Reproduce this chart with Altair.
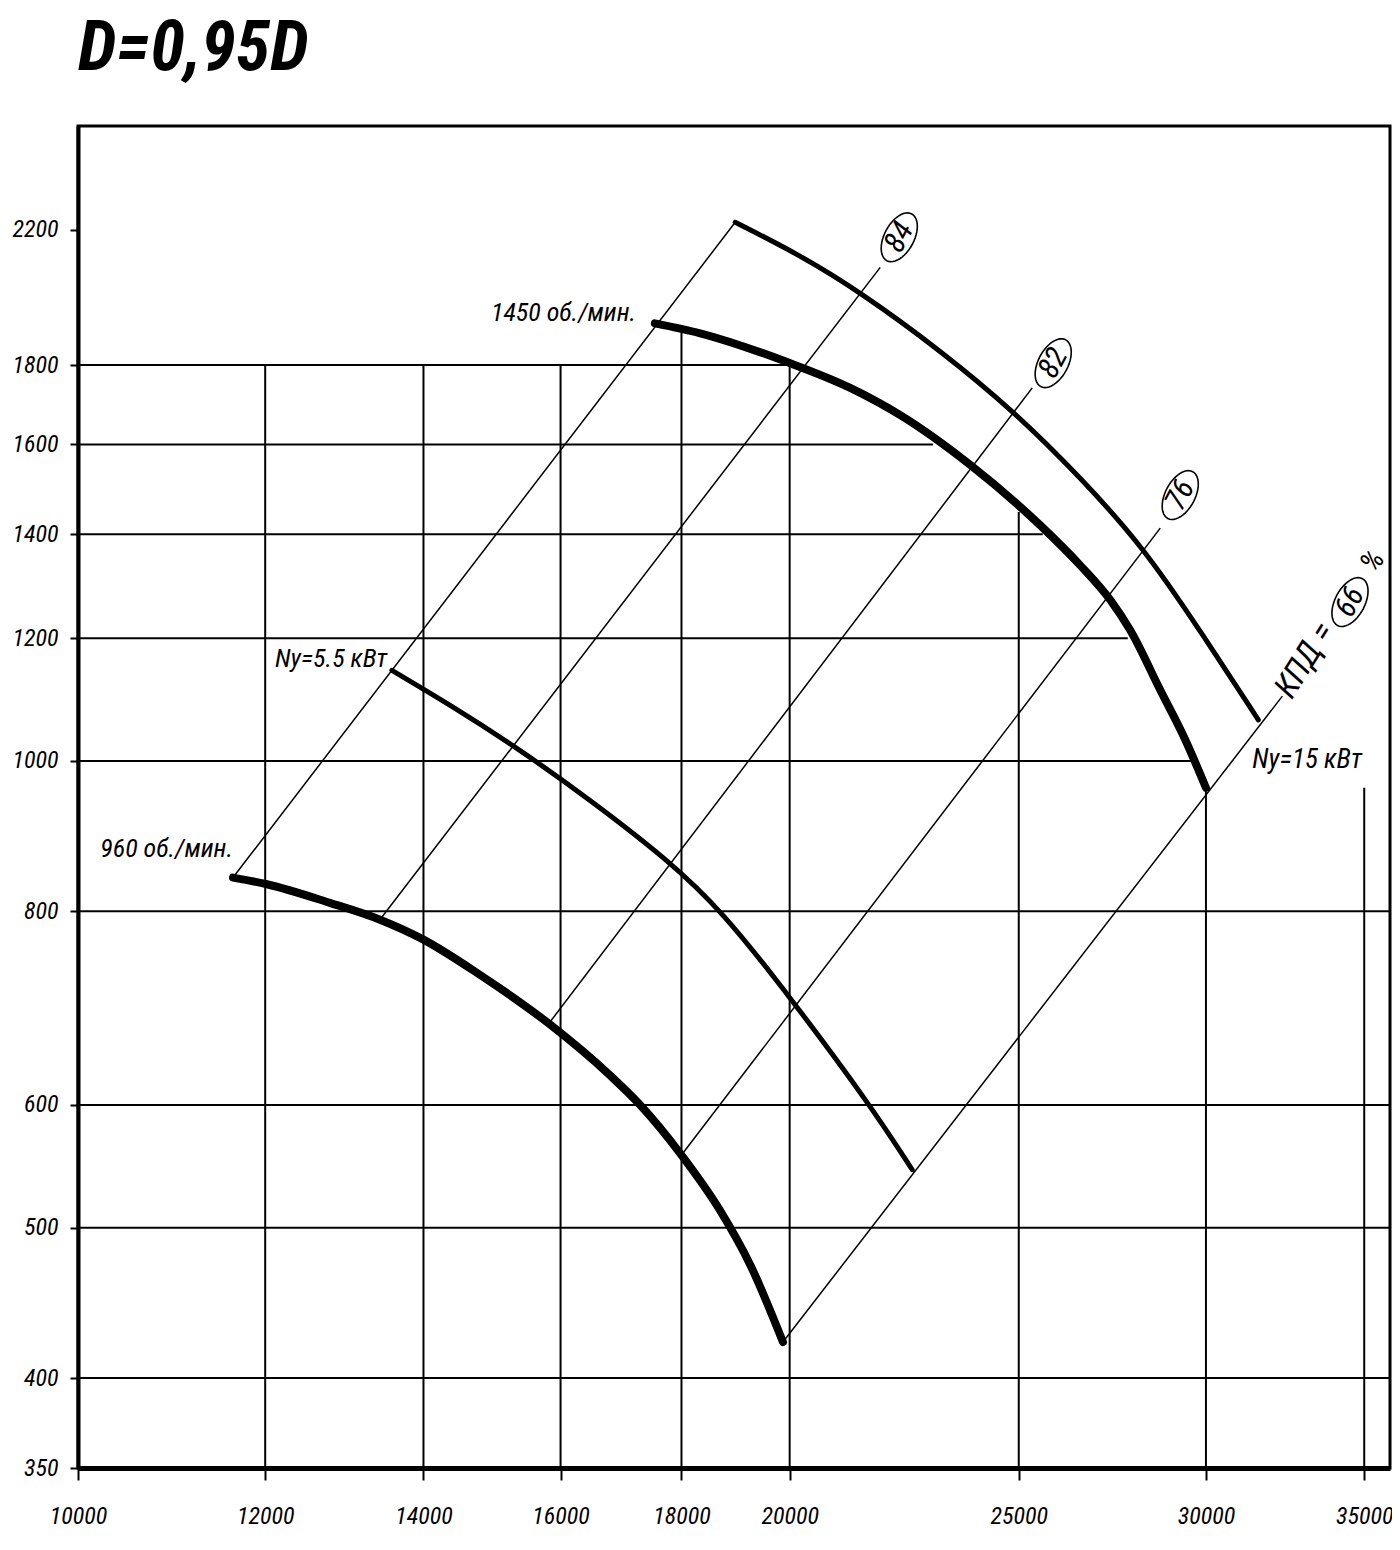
import math
import altair as alt
import pandas as pd

FONT = "Liberation Sans Narrow, Roboto Condensed, DejaVu Sans Condensed, sans-serif"

# ---- axes ----
x_ticks = [10000, 12000, 14000, 16000, 18000, 20000, 25000, 30000, 35000]
y_ticks = [350, 400, 500, 600, 800, 1000, 1200, 1400, 1600, 1800, 2200]
X_DOMAIN = [10000, 35890]
Y_DOMAIN = [350, 2567]

# ---- curves (Q m3/h, P Pa) ----
n960_q = [11630, 12010, 12780, 13420, 14000, 14790, 15840, 16790, 17290, 18000, 18690, 19250, 19870]
n960_p = [841, 833, 810, 790, 767, 728, 676, 627, 600, 557, 513, 473, 422]

n1450_q = [17540, 18330, 19950, 21215, 22275, 23846, 25528, 26543, 27330, 27868, 28694, 29401, 30000]
n1450_p = [1915, 1887, 1808, 1740, 1671, 1552, 1419, 1337, 1270, 1214, 1111, 1032, 961]

ny55_q = [13577, 14395, 15276, 16469, 17769, 18729, 20011, 21633, 22536]
ny55_p = [1144, 1085, 1024, 944, 863, 800, 704, 600, 545]

ny15_q = [18967, 20207, 21423, 23159, 24914, 26543, 28223, 29824, 31570]
ny15_p = [2225, 2119, 2006, 1840, 1678, 1524, 1374, 1214, 1063]

# ---- efficiency lines (straight in log-log) ----
eff_id = ["edge", "84", "82", "76", "66"]
eff_q0 = [11630, 13418, 15805, 18000, 19870]
eff_p0 = [841, 790, 676, 557, 422]
eff_q1 = [18967, 21845, 25330, 28694, 32318]
eff_p1 = [2225, 2081, 1740, 1413, 1101]

# circled efficiency labels
circ_text = ["84", "82", "76", "66"]
circ_q = [22253, 25853, 29258, 34518]
circ_p = [2176, 1805, 1484, 1266]

# ---- partial grid lines ----
hgrid_p = [400, 500, 600, 800, 1000, 1200, 1400, 1600, 1800]
hgrid_q_end = [35890, 35890, 35890, 35890, 29700, 27800, 25590, 23000, 19950]
vgrid_q = [12000, 14000, 16000, 18000, 20000, 25000, 30000, 35000]
vgrid_p_end = [1800, 1800, 1800, 1890, 1800, 1447, 961, 961]

# ---- text labels ----
title_text = ["D=0,95D"]
lbl_text = ["1450 об./мин.", "Ny=5.5 кВт", "960 об./мин."]
lbl_q = [17223, 13514, 11630]
lbl_p = [1944, 1163, 877]
lbl15_text = ["Ny=15 кВт"]
lbl15_q = [31386]
lbl15_p = [1001]
kpd_text = ["КПД ="]
kpd_q = [33036]
kpd_p = [1161]
pct_text = ["%"]
pct_q = [35299]
pct_p = [1345]

xs = alt.Scale(type="log", domain=X_DOMAIN, nice=False)
ys = alt.Scale(type="log", domain=Y_DOMAIN, nice=False)
xaxis = alt.Axis(values=x_ticks, format="d", title=None, grid=False, labelFlush=False)
yaxis = alt.Axis(values=y_ticks, format="d", title=None, grid=False, labelFlush=False)


def X(f):
    return alt.X(f, type="quantitative", scale=xs, axis=xaxis)


def Y(f):
    return alt.Y(f, type="quantitative", scale=ys, axis=yaxis)


def curve(q, p, width, interp):
    df = pd.DataFrame({"q": q, "p": p})
    return alt.Chart(df).mark_line(
        color="black", strokeWidth=width, interpolate=interp, strokeCap="round"
    ).encode(x=X("q"), y=Y("p"))


hgrid = alt.Chart(pd.DataFrame({"p": hgrid_p, "q0": [X_DOMAIN[0]] * len(hgrid_p), "q1": hgrid_q_end})).mark_rule(
    color="black", strokeWidth=2
).encode(y=Y("p"), x=X("q0"), x2="q1")

vgrid = alt.Chart(pd.DataFrame({"q": vgrid_q, "p0": [Y_DOMAIN[0]] * len(vgrid_q), "p1": vgrid_p_end})).mark_rule(
    color="black", strokeWidth=2
).encode(x=X("q"), y=Y("p0"), y2="p1")

eff = alt.Chart(pd.DataFrame({"id": eff_id, "q0": eff_q0, "p0": eff_p0, "q1": eff_q1, "p1": eff_p1})).mark_rule(
    color="black", strokeWidth=1.5
).encode(x=X("q0"), y=Y("p0"), x2="q1", y2="p1")

# ellipse symbol path for circled numbers
a, b = 1.0, 0.56
pts = [(a * math.cos(2 * math.pi * i / 48), b * math.sin(2 * math.pi * i / 48)) for i in range(48)]
ELLIPSE = "M " + " L ".join(f"{x:.3f} {y:.3f}" for x, y in pts) + " Z"

circ_df = pd.DataFrame({"t": circ_text, "q": circ_q, "p": circ_p})
circles = alt.Chart(circ_df).mark_point(
    shape=ELLIPSE, size=2809, angle=298, filled=False, color="black", strokeWidth=1.6, opacity=1
).encode(x=X("q"), y=Y("p"))
circ_labels = alt.Chart(circ_df).mark_text(
    angle=298, font=FONT, fontSize=30, fontStyle="italic", color="black", align="center", baseline="middle"
).encode(x=X("q"), y=Y("p"), text="t")

labels = alt.Chart(pd.DataFrame({"t": lbl_text, "q": lbl_q, "p": lbl_p})).mark_text(
    font=FONT, fontSize=26, fontStyle="italic", color="black", align="right", baseline="middle"
).encode(x=X("q"), y=Y("p"), text="t")

label15 = alt.Chart(pd.DataFrame({"t": lbl15_text, "q": lbl15_q, "p": lbl15_p})).mark_text(
    font=FONT, fontSize=27, fontStyle="italic", color="black", align="left", baseline="middle"
).encode(x=X("q"), y=Y("p"), text="t")

kpd = alt.Chart(pd.DataFrame({"t": kpd_text, "q": kpd_q, "p": kpd_p})).mark_text(
    angle=302, font=FONT, fontSize=33, fontStyle="italic", color="black", align="center", baseline="middle"
).encode(x=X("q"), y=Y("p"), text="t")

pct = alt.Chart(pd.DataFrame({"t": pct_text, "q": pct_q, "p": pct_p})).mark_text(
    angle=302, font=FONT, fontSize=30, fontStyle="italic", color="black", align="center", baseline="middle"
).encode(x=X("q"), y=Y("p"), text="t")

title = alt.Chart(pd.DataFrame({"t": title_text})).mark_text(
    font=FONT, fontSize=70, fontStyle="italic", fontWeight="bold", color="black",
    align="left", baseline="alphabetic",
).encode(x=alt.value(0), y=alt.value(-56), text="t")

chart = alt.layer(
    hgrid, vgrid, eff,
    curve(ny55_q, ny55_p, 5, "basis"),
    curve(ny15_q, ny15_p, 5, "basis"),
    curve(n960_q, n960_p, 8, "monotone"),
    curve(n1450_q, n1450_p, 8, "monotone"),
    circles, circ_labels, labels, label15, kpd, pct, title,
).properties(
    width=1312,
    height=1342,
    autosize=alt.AutoSizeParams(type="none"),
    padding={"left": 70, "top": 118, "right": 2, "bottom": 64},
).configure_view(
    stroke="black", strokeWidth=3
).configure_axis(
    domainColor="black", tickColor="black", labelColor="black",
    labelFont=FONT, labelFontStyle="italic", labelFontSize=24,
).configure_axisX(
    domainWidth=5, tickWidth=2, tickSize=12, labelPadding=24,
).configure_axisY(
    domainWidth=4, tickWidth=2, tickSize=8, labelPadding=12,
)

chart.save("out.html", embed_options={"renderer": "svg", "actions": False})
